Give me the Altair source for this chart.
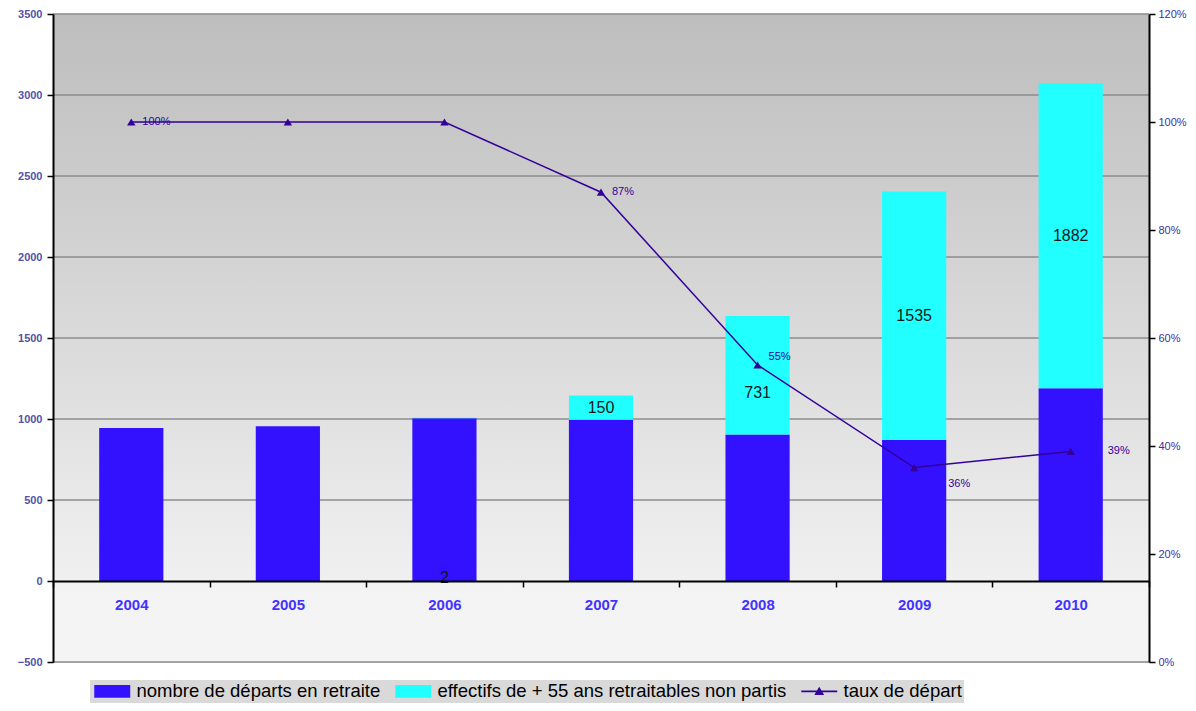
import altair as alt
import pandas as pd

annees = ["2004", "2005", "2006", "2007", "2008", "2009", "2010"]
departs = [945, 955, 1005, 995, 905, 870, 1190]
non_partis = [0, 0, 2, 150, 731, 1535, 1882]
taux = [1.00, 1.00, 1.00, 0.87, 0.55, 0.36, 0.39]
taux_labels = ["100%", "", "", "87%", "55%", "36%", "39%"]
non_partis_labels = ["", "", "2", "150", "731", "1535", "1882"]
series = [
    "nombre de départs en retraite",
    "effectifs de + 55 ans retraitables non partis",
    "taux de départ",
]
left_ticks = [-500, 0, 500, 1000, 1500, 2000, 2500, 3000, 3500]
right_ticks = [0, 0.2, 0.4, 0.6, 0.8, 1.0, 1.2]

BLUE = "#3311ff"
CYAN = "#22ffff"
PURPLE = "#330099"
FONT = "Liberation Sans"

rows = []
for a, d, n in zip(annees, departs, non_partis):
    rows.append({"annee": a, "serie": series[0], "valeur": d, "ordre": 0})
    rows.append({"annee": a, "serie": series[1], "valeur": n, "ordre": 1})
bars_df = pd.DataFrame(rows)

lab_df = pd.DataFrame({
    "annee": annees,
    "pos": [d + n / 2 if n >= 50 else 0 for d, n in zip(departs, non_partis)],
    "lab": non_partis_labels,
})
line_df = pd.DataFrame({"annee": annees, "taux": taux, "lab": taux_labels})
grid_df = pd.DataFrame({"v": [t for t in left_ticks if t != 0]})
bg_df = pd.DataFrame({"k": [0]})

xscale = alt.Scale(domain=annees, paddingInner=0, paddingOuter=0)
xaxis = alt.Axis(
    title=None, orient="bottom", offset=-81, tickBand="extent",
    domainColor="black", domainWidth=2, tickColor="black", tickSize=6, tickWidth=1.5,
    labelFont=FONT, labelFontSize=15, labelFontWeight="bold", labelColor="#4433ff",
    labelPadding=10, labelAngle=0, zindex=1,
)
X = alt.X("annee:N", scale=xscale, axis=xaxis)

yl = alt.Scale(domain=[-500, 3500], nice=False, zero=False)
left_axis = alt.Axis(
    title=None, values=left_ticks, format="d", grid=False,
    domainColor="black", domainWidth=2, tickColor="black", tickSize=6, tickWidth=1.5,
    labelFont=FONT, labelFontSize=11, labelFontWeight="bold", labelColor="#5252a8",
    labelPadding=5, zindex=1,
)
yr = alt.Scale(domain=[0, 1.2], nice=False, zero=False)
right_axis = alt.Axis(
    title=None, orient="right", values=right_ticks, format=".0%", grid=False,
    domainColor="black", domainWidth=2, tickColor="black", tickSize=6, tickWidth=1.5,
    labelFont=FONT, labelFontSize=11, labelColor="#3c2fa0", labelPadding=3, zindex=1,
)

color_scale = alt.Scale(domain=series, range=[BLUE, CYAN, PURPLE])
# symbols drawn wider than their 14px layout box (unit = 7px)
RECT = "M-1,-0.9L4.14,-0.9L4.14,0.9L-1,0.9Z"
LINESYM = "M-1,-0.14L4.14,-0.14L4.14,0.14L-1,0.14ZM1.57,-0.65L2.27,0.5L0.87,0.5Z"
shape_scale = alt.Scale(domain=series, range=[RECT, RECT, LINESYM])
legend = alt.Legend(
    title=None, orient="none", legendX=37, legendY=666, direction="horizontal",
    fillColor="#d9d9d9", padding=2, symbolSize=196, symbolStrokeWidth=0,
    labelFont=FONT, labelFontSize=18.5, labelColor="black", labelOffset=26,
    columnPadding=12, labelLimit=600,
)

grad = alt.Gradient(
    gradient="linear", x1=0, x2=0, y1=0, y2=1,
    stops=[
        alt.GradientStop(color="#bebebe", offset=0),
        alt.GradientStop(color="#c4c4c4", offset=0.12),
        alt.GradientStop(color="#f0f0f0", offset=0.875),
        alt.GradientStop(color="#f3f3f3", offset=0.876),
        alt.GradientStop(color="#f4f4f4", offset=1),
    ],
)

bg = alt.Chart(bg_df).mark_rect(color=grad).encode(
    x=alt.value(0), x2=alt.value("width"),
    y=alt.Y(datum=3500, scale=yl, axis=left_axis), y2=alt.datum(-500),
)
grid = alt.Chart(grid_df).mark_rule(color="#8c8c8c", strokeWidth=1.5).encode(
    y=alt.Y("v:Q", scale=yl, axis=left_axis)
)
bars = alt.Chart(bars_df).mark_bar(width=alt.RelativeBandSize(0.41)).encode(
    x=X,
    y=alt.Y("valeur:Q", stack="zero", scale=yl, axis=left_axis),
    color=alt.Color("serie:N", scale=color_scale, legend=legend),
    order=alt.Order("ordre:Q"),
)


def val_text(years, dy):
    return alt.Chart(lab_df).transform_filter(
        alt.FieldOneOfPredicate(field="annee", oneOf=years)
    ).mark_text(font=FONT, fontSize=16, color="#0d1a1a", baseline="middle", dy=dy).encode(
        x=X, y=alt.Y("pos:Q", scale=yl, axis=left_axis), text="lab:N"
    )


dummy = alt.Chart(bars_df).transform_filter("false").mark_point(filled=True, opacity=1).encode(
    color=alt.Color("serie:N", scale=color_scale, legend=legend),
    shape=alt.Shape("serie:N", scale=shape_scale, legend=legend),
)

left = alt.layer(
    bg, grid, bars,
    val_text(["2007", "2009", "2010"], 0),
    val_text(["2008"], 18),
    val_text(["2006"], -3),
    dummy,
)

YR = alt.Y("taux:Q", scale=yr, axis=right_axis)
line = alt.Chart(line_df).mark_line(color=PURPLE, strokeWidth=1.5).encode(x=X, y=YR)
pts = alt.Chart(line_df).mark_point(
    shape="triangle-up", filled=True, size=70, color=PURPLE, opacity=1
).encode(x=X, y=YR)


def pct_text(years, dx, dy):
    return alt.Chart(line_df).transform_filter(
        alt.FieldOneOfPredicate(field="annee", oneOf=years)
    ).mark_text(
        font=FONT, fontSize=11, color=PURPLE, align="left", baseline="middle", dx=dx, dy=dy
    ).encode(x=X, y=YR, text="lab:N")


right = alt.layer(
    line, pts,
    pct_text(["2004", "2007"], 11, 0),
    pct_text(["2008"], 11, -8),
    pct_text(["2009"], 34, 16),
    pct_text(["2010"], 37, 0),
)

chart = alt.layer(left, right).resolve_scale(y="independent").properties(
    width=1096, height=648,
    autosize=alt.AutoSizeParams(type="none"),
    padding={"left": 45, "top": 6, "right": 38, "bottom": 41},
).configure_view(stroke=None).configure(background="white")

chart.save("out.html", embed_options={"renderer": "svg", "actions": False})
